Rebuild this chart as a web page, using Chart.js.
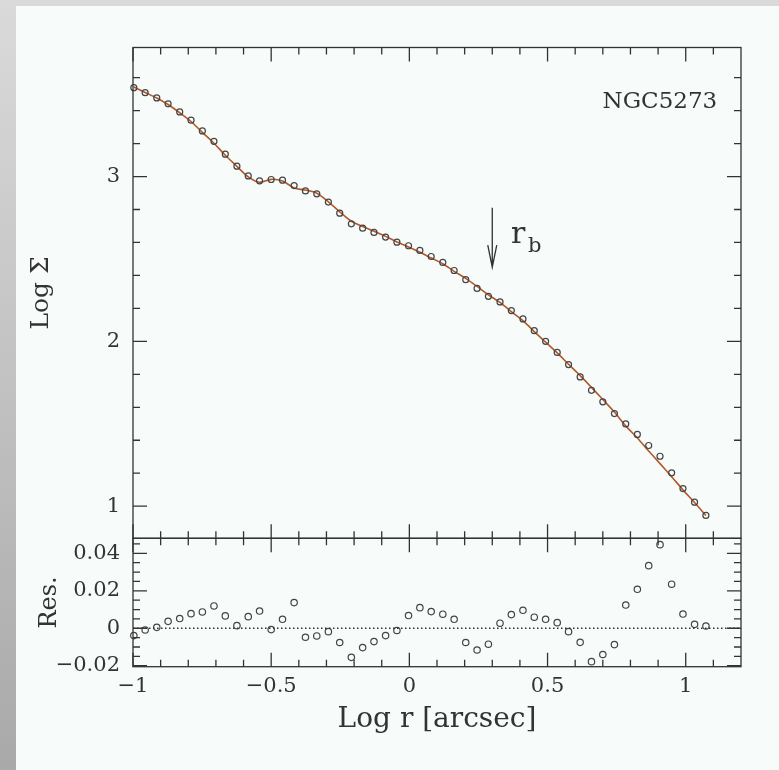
<!DOCTYPE html>
<html>
<head>
<meta charset="utf-8">
<script src="https://cdn.jsdelivr.net/npm/chart.js@4.4.1/dist/chart.umd.min.js"></script>
<style>
  html, body { margin: 0; padding: 0; }
  body {
    width: 779px; height: 770px; overflow: hidden; position: relative;
    background: linear-gradient(to bottom, #dadada, #a9a9a9);
  }
  #sheet { position: absolute; left: 16px; top: 6px; right: 0; bottom: 0; background: #f7fbfa; }
  canvas { position: absolute; left: 0; }
  #profile { top: 0; }
  #resid { top: 520px; }
</style>
</head>
<body>
<div id="sheet"></div>
<canvas id="profile" width="779" height="560"></canvas>
<canvas id="resid" width="779" height="250"></canvas>
<script>
// surface brightness profile of NGC5273
const logR = [
  -0.997, -0.956, -0.914, -0.873, -0.831, -0.790, -0.749, -0.707, -0.666, -0.624,
  -0.583, -0.542, -0.500, -0.459, -0.417, -0.376, -0.335, -0.293, -0.252, -0.210,
  -0.169, -0.128, -0.086, -0.045, -0.003, 0.038, 0.079, 0.121, 0.162, 0.204,
  0.245, 0.286, 0.328, 0.369, 0.411, 0.452, 0.493, 0.535, 0.576, 0.618,
  0.659, 0.700, 0.742, 0.783, 0.825, 0.866, 0.907, 0.949, 0.990, 1.032,
  1.073
];
const logSigma = [
  3.539, 3.509, 3.477, 3.441, 3.392, 3.342, 3.277, 3.214, 3.136, 3.063,
  3.004, 2.974, 2.982, 2.978, 2.945, 2.913, 2.895, 2.845, 2.778, 2.713,
  2.687, 2.661, 2.633, 2.602, 2.580, 2.552, 2.515, 2.479, 2.430, 2.374,
  2.321, 2.273, 2.239, 2.187, 2.136, 2.065, 2.000, 1.933, 1.859, 1.784,
  1.703, 1.633, 1.562, 1.499, 1.435, 1.368, 1.303, 1.202, 1.107, 1.024,
  0.944
];
// fitted model curve
const logSigmaFit = [
  3.543, 3.510, 3.477, 3.437, 3.387, 3.334, 3.268, 3.202, 3.129, 3.062,
  2.998, 2.965, 2.983, 2.973, 2.931, 2.918, 2.899, 2.847, 2.786, 2.729,
  2.697, 2.668, 2.637, 2.603, 2.573, 2.541, 2.506, 2.471, 2.425, 2.382,
  2.333, 2.282, 2.236, 2.180, 2.126, 2.059, 1.995, 1.930, 1.861, 1.792,
  1.721, 1.647, 1.571, 1.487, 1.414, 1.335, 1.258, 1.179, 1.099, 1.022,
  0.943
];
const residual = [
  -0.0039, -0.0009, 0.0005, 0.0037, 0.0052, 0.0078, 0.0087, 0.0119, 0.0066, 0.0014,
  0.0062, 0.0092, -0.0007, 0.0048, 0.0137, -0.0048, -0.0041, -0.0018, -0.0076, -0.0155,
  -0.0103, -0.0071, -0.0039, -0.0012, 0.0068, 0.0110, 0.0089, 0.0075, 0.0048, -0.0076,
  -0.0116, -0.0085, 0.0027, 0.0073, 0.0096, 0.0059, 0.0048, 0.0030, -0.0018, -0.0075,
  -0.0178, -0.0140, -0.0087, 0.0124, 0.0208, 0.0334, 0.0446, 0.0235, 0.0076, 0.0021,
  0.0012
];

const xMajorTicks = [-1, -0.5, 0, 0.5, 1];
const xTickLabels = ['\u22121', '\u22120.5', '0', '0.5', '1'];
const xMinorTicks = [-0.9, -0.8, -0.7, -0.6, -0.4, -0.3, -0.2, -0.1, 0.1, 0.2, 0.3, 0.4, 0.6, 0.7, 0.8, 0.9, 1.1];
const sigmaMajorTicks = [1, 2, 3];
const sigmaTickLabels = ['1', '2', '3'];
const sigmaMinorTicks = [1.2, 1.4, 1.6, 1.8, 2.2, 2.4, 2.6, 2.8, 3.2, 3.4, 3.6];
const resMajorTicks = [-0.02, 0, 0.02, 0.04];
const resTickLabels = ['\u22120.02', '0', '0.02', '0.04'];
const resMinorTicks = [-0.015, -0.01, -0.005, 0.005, 0.01, 0.015, 0.025, 0.03, 0.035, 0.045];

const objectName = 'NGC5273';
const nameAt = [1.114, 3.416];      // right end / baseline of the name
const breakRadius = 0.3;            // log r of the r_b arrow
const arrowFromTo = [2.81, 2.45];
const rbLabelAt = [0.368, 2.598];

const FONT = 'DejaVu Serif';
const INK = '#333';

// box round the plot area with inward ticks on all four sides
function frameTicks(yMajor, yMinor, zeroLine) {
  return {
    id: 'frameTicks',
    afterDatasetsDraw(chart) {
      const { ctx, chartArea: a, scales } = chart;
      const xs = scales.x, ys = scales.y;
      ctx.save();
      ctx.strokeStyle = INK;
      ctx.lineWidth = 1.3;
      if (zeroLine) {
        const p = ys.getPixelForValue(0);
        ctx.setLineDash([1.5, 2.5]);
        ctx.beginPath(); ctx.moveTo(a.left, p); ctx.lineTo(a.right, p); ctx.stroke();
        ctx.setLineDash([]);
      }
      ctx.strokeRect(a.left, a.top, a.right - a.left, a.bottom - a.top);
      ctx.beginPath();
      const hTick = (v, len) => {
        const p = xs.getPixelForValue(v);
        ctx.moveTo(p, a.top); ctx.lineTo(p, a.top + len);
        ctx.moveTo(p, a.bottom); ctx.lineTo(p, a.bottom - len);
      };
      const vTick = (v, len) => {
        const p = ys.getPixelForValue(v);
        ctx.moveTo(a.left, p); ctx.lineTo(a.left + len, p);
        ctx.moveTo(a.right, p); ctx.lineTo(a.right - len, p);
      };
      xMajorTicks.forEach(v => hTick(v, 14));
      xMinorTicks.forEach(v => hTick(v, 7));
      yMajor.forEach(v => vTick(v, 14));
      yMinor.forEach(v => vTick(v, 7));
      ctx.stroke();
      ctx.restore();
    }
  };
}

const annotations = {
  id: 'annotations',
  afterDraw(chart) {
    const { ctx, scales: { x, y } } = chart;
    ctx.save();
    ctx.fillStyle = INK;
    ctx.strokeStyle = INK;
    ctx.lineWidth = 1.3;
    ctx.textBaseline = 'alphabetic';
    ctx.textAlign = 'right';
    ctx.font = '23px "' + FONT + '"';
    ctx.fillText(objectName, x.getPixelForValue(nameAt[0]), y.getPixelForValue(nameAt[1]));

    const ax = x.getPixelForValue(breakRadius);
    const a0 = y.getPixelForValue(arrowFromTo[0]);
    const a1 = y.getPixelForValue(arrowFromTo[1]);
    ctx.beginPath();
    ctx.moveTo(ax, a0); ctx.lineTo(ax, a1);
    ctx.moveTo(ax - 4.5, a1 - 22); ctx.lineTo(ax, a1); ctx.lineTo(ax + 4.5, a1 - 22);
    ctx.stroke();

    ctx.textAlign = 'left';
    const rx = x.getPixelForValue(rbLabelAt[0]);
    const ry = y.getPixelForValue(rbLabelAt[1]);
    ctx.font = '30px "' + FONT + '"';
    ctx.fillText('r', rx, ry);
    ctx.font = '21px "' + FONT + '"';
    ctx.fillText('b', rx + 17, ry + 9);
    ctx.restore();
  }
};

const tickFont = { family: FONT, size: 21 };

function yAxis(min, max, major, labels, title, titleSize, titlePad) {
  return {
    type: 'linear', min: min, max: max,
    afterFit: s => { s.width = 133; s.paddingTop = 0; s.paddingBottom = 0; },
    afterBuildTicks: s => { s.ticks = major.map(v => ({ value: v })); },
    grid: { display: false, drawTicks: false },
    border: { display: false },
    ticks: { padding: 13, color: INK, font: tickFont, callback: (v, i) => labels[i] },
    title: { display: true, text: title, color: INK,
             font: { family: FONT, size: titleSize }, padding: { top: titlePad, bottom: 0 } }
  };
}

const profilePoints = logR.map((r, i) => ({ x: r, y: logSigma[i] }));
const profileFit = logR.map((r, i) => ({ x: r, y: logSigmaFit[i] }));
const residPoints = logR.map((r, i) => ({ x: r, y: residual[i] }));

new Chart(document.getElementById('profile'), {
  type: 'scatter',
  data: {
    datasets: [
      {
        label: 'Log Sigma',
        data: profilePoints,
        pointStyle: 'circle',
        pointRadius: 3,
        pointBorderWidth: 1.2,
        borderColor: '#444',
        backgroundColor: 'rgba(0,0,0,0)',
        clip: false
      },
      {
        label: 'fit',
        data: profileFit,
        showLine: true,
        pointRadius: 0,
        borderColor: '#b4582a',
        borderWidth: 1.6,
        tension: 0.3,
        clip: false
      }
    ]
  },
  options: {
    responsive: false,
    animation: false,
    events: [],
    layout: { padding: { top: 47.5, bottom: 21.7, left: 0, right: 38 } },
    plugins: { legend: { display: false }, tooltip: { enabled: false } },
    scales: {
      x: { type: 'linear', min: -1, max: 1.2, display: false },
      y: yAxis(0.805, 3.783, sigmaMajorTicks, sigmaTickLabels, 'Log \u03A3', 25, 26)
    }
  },
  plugins: [frameTicks(sigmaMajorTicks, sigmaMinorTicks, false), annotations]
});

new Chart(document.getElementById('resid'), {
  type: 'scatter',
  data: {
    datasets: [
      {
        label: 'Res.',
        data: residPoints,
        pointStyle: 'circle',
        pointRadius: 3.2,
        pointBorderWidth: 1.2,
        borderColor: '#444',
        backgroundColor: 'rgba(0,0,0,0)',
        clip: false
      }
    ]
  },
  options: {
    responsive: false,
    animation: false,
    events: [],
    layout: { padding: { top: 18.3, bottom: 0, left: 0, right: 38 } },
    plugins: { legend: { display: false }, tooltip: { enabled: false } },
    scales: {
      x: {
        type: 'linear', min: -1, max: 1.2, position: 'bottom',
        afterFit: s => { s.height = 103.3; s.paddingLeft = 0; s.paddingRight = 0; },
        afterBuildTicks: s => { s.ticks = xMajorTicks.map(v => ({ value: v })); },
        grid: { display: false, drawTicks: false },
        border: { display: false },
        ticks: { padding: 7, maxRotation: 0, autoSkip: false, color: INK, font: tickFont,
                 callback: (v, i) => xTickLabels[i] },
        title: { display: true, text: 'Log r [arcsec]', color: INK,
                 font: { family: FONT, size: 28 }, padding: { top: 0, bottom: 33 } }
      },
      y: yAxis(-0.0205, 0.048, resMajorTicks, resTickLabels, 'Res.', 24, 35)
    }
  },
  plugins: [frameTicks(resMajorTicks, resMinorTicks, true)]
});
</script>
</body>
</html>
